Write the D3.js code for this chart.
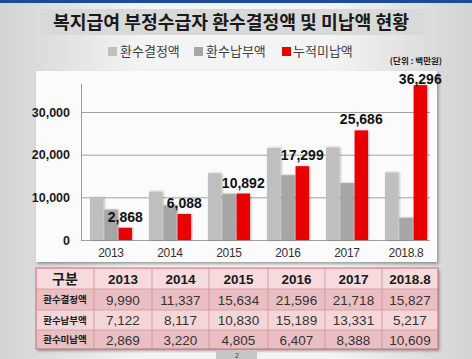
<!DOCTYPE html>
<html><head><meta charset="utf-8">
<script src="https://cdn.jsdelivr.net/npm/d3@7"></script>
<style>html,body{margin:0;padding:0;overflow:hidden;}svg{display:block;}</style>
</head><body>
<script>
const years = ["2013","2014","2015","2016","2017","2018.8"];
const seriesNames = ["환수결정액","환수납부액","누적미납액"];
const decided = [9990,11337,15634,21596,21718,15827];
const paid = [7122,8117,10830,15189,13331,5217];
const cumulative = [2868,6088,10892,17299,25686,36296];
const unpaid = [2869,3220,4805,6407,8388,10609];
const yTicks = [0,10000,20000,30000];
const tableRowNames = ["환수결정액","환수납부액","환수미납액"];
const tableRows = [decided, paid, unpaid];
const colors = ["#bfbfbf","#a6a6a6","#ea0000"];
const W=472,H=359;
const KR = "'Noto Sans CJK KR','Noto Sans',sans-serif";
const NUM = "'Liberation Sans',Arial,sans-serif";
const fmt = d3.format(",");

const svg = d3.select("body").append("svg").attr("width",W).attr("height",H);
const defs = svg.append("defs");
const bg = defs.append("linearGradient").attr("id","bg").attr("x1","0").attr("x2","1").attr("y1","0").attr("y2","0");
bg.append("stop").attr("offset","0").attr("stop-color","#d3d3d3");
bg.append("stop").attr("offset","0.3").attr("stop-color","#f4f4f4");
bg.append("stop").attr("offset","0.7").attr("stop-color","#f4f4f4");
bg.append("stop").attr("offset","1").attr("stop-color","#d3d3d3");
const sh = defs.append("filter").attr("id","sh").attr("x","-5%").attr("y","-5%").attr("width","112%").attr("height","115%");
sh.append("feDropShadow").attr("dx",1.5).attr("dy",2).attr("stdDeviation",1.5).attr("flood-color","#000").attr("flood-opacity",0.35);
const bsh = defs.append("filter").attr("id","bsh").attr("x","-20%").attr("y","-5%").attr("width","150%").attr("height","110%");
bsh.append("feDropShadow").attr("dx",1).attr("dy",0).attr("stdDeviation",0.8).attr("flood-color","#000").attr("flood-opacity",0.3);

svg.append("rect").attr("width",W).attr("height",H).attr("fill","url(#bg)");
svg.append("rect").attr("width",W).attr("height",3).attr("fill","#1f4b92");

// title
svg.append("rect").attr("x",40).attr("y",9).attr("width",384).attr("height",26).attr("fill","#d9d9d9");
svg.append("text").attr("x",231).attr("y",29).attr("text-anchor","middle")
  .attr("font-family",KR).attr("font-weight","bold").attr("font-size",18).attr("fill","#1a1a1a")
  .attr("textLength",356).attr("lengthAdjust","spacingAndGlyphs")
  .text("복지급여 부정수급자 환수결정액 및 미납액 현황");

// legend
const legX=[108,194,282];
seriesNames.forEach((n,i)=>{
  svg.append("rect").attr("x",legX[i]).attr("y",47).attr("width",9).attr("height",9).attr("fill",colors[i]);
  svg.append("text").attr("x",legX[i]+(i==2?11:12)).attr("y",56).attr("font-family",KR).attr("font-size",13)
    .attr("fill","#404040").text(n);
});
svg.append("text").attr("x",442).attr("y",64).attr("text-anchor","end").attr("font-family",KR)
  .attr("font-weight","bold").attr("font-size",8.5).attr("fill","#222").text("(단위 : 백만원)");

// chart panel
svg.append("rect").attr("x",36).attr("y",71).attr("width",401).attr("height",191).attr("fill","#fbfbfb").attr("filter","url(#sh)");

const y = d3.scaleLinear().domain([0,36800]).range([240,83]);
const x = d3.scaleBand().domain(years).range([81.5,435.5]).padding(0);
const x1 = d3.scaleBand().domain(seriesNames).range([0,42]).paddingInner(0.06);
const off = (x.bandwidth()-42)/2;

const yAxis = svg.append("g").attr("transform","translate(81,0)")
  .call(d3.axisLeft(y).tickValues(yTicks).tickFormat(d3.format(",")).tickSizeInner(-349).tickSizeOuter(0).tickPadding(11));
yAxis.select(".domain").attr("stroke","#9a9a9a");
yAxis.selectAll(".tick line").attr("stroke","#a0a0a0");
yAxis.selectAll(".tick text").attr("font-family",NUM).attr("font-weight","bold").attr("font-size",12.5).attr("fill","#1a1a1a");

const xAxis = svg.append("g").attr("transform","translate(0,240)")
  .call(d3.axisBottom(x).tickSize(0).tickPadding(8));
xAxis.select(".domain").remove();
xAxis.selectAll(".tick text").attr("font-family",NUM).attr("font-size",12).attr("fill","#333").attr("letter-spacing","-0.3");

const seriesData = [decided, paid, cumulative];
const g = svg.append("g");
seriesData.forEach((arr,si)=>{
  g.selectAll(null).data(arr).enter().append("rect")
    .attr("x",(d,i)=>x(years[i])+off+x1(seriesNames[si]))
    .attr("width",x1.bandwidth())
    .attr("y",d=>y(d)).attr("height",d=>240-y(d))
    .attr("fill",colors[si]).attr("filter","url(#bsh)");
});
g.selectAll(null).data(cumulative).enter().append("text")
  .attr("x",(d,i)=>x(years[i])+off+x1(seriesNames[2])+x1.bandwidth()/2)
  .attr("y",d=>Math.max(y(d)-6,84))
  .attr("text-anchor","middle").attr("font-family",NUM).attr("font-weight","bold").attr("font-size",14)
  .attr("fill","#111").text(d=>fmt(d));

// table
const colX=[36,94,152,209,268,325,382,438];
const rowY=[268,289,310,330,349];
const tg = svg.append("g");
tg.append("rect").attr("x",36).attr("y",268).attr("width",402).attr("height",81).attr("fill","#f3d3d6").attr("filter","url(#sh)");
const rowFill=["#f6dadd","#eabfc3","#f4d6d9","#eabfc3"];
for(let r=0;r<4;r++){
  tg.append("rect").attr("x",36).attr("y",rowY[r]).attr("width",402).attr("height",rowY[r+1]-rowY[r]).attr("fill",rowFill[r]);
}
for(let c=1;c<7;c++) tg.append("line").attr("x1",colX[c]).attr("x2",colX[c]).attr("y1",268).attr("y2",349).attr("stroke","#cf8f95").attr("stroke-width",0.8);
for(let r=1;r<4;r++) tg.append("line").attr("x1",36).attr("x2",438).attr("y1",rowY[r]).attr("y2",rowY[r]).attr("stroke","#d49aa0").attr("stroke-width",0.8);
tg.append("rect").attr("x",36).attr("y",268).attr("width",402).attr("height",81).attr("fill","none").attr("stroke","#c66f77").attr("stroke-width",1);
const cx = c=>(colX[c]+colX[c+1])/2;
const cy = r=>(rowY[r]+rowY[r+1])/2;
tg.append("text").attr("x",cx(0)).attr("y",cy(0)+5).attr("text-anchor","middle").attr("font-family",KR)
  .attr("font-weight","bold").attr("font-size",14).attr("fill","#1a1a1a").text("구분");
years.forEach((yr,i)=>{
  tg.append("text").attr("x",cx(i+1)).attr("y",cy(0)+5).attr("text-anchor","middle").attr("font-family",NUM)
    .attr("font-weight","bold").attr("font-size",13.5).attr("fill","#1a1a1a").text(yr);
});
tableRows.forEach((arr,r)=>{
  tg.append("text").attr("x",cx(0)).attr("y",cy(r+1)+3.5).attr("text-anchor","middle").attr("font-family",KR)
    .attr("font-weight","bold").attr("font-size",9.5).attr("fill","#1a1a1a").text(tableRowNames[r]);
  arr.forEach((v,i)=>{
    tg.append("text").attr("x",cx(i+1)).attr("y",cy(r+1)+5).attr("text-anchor","middle").attr("font-family",NUM)
      .attr("font-size",13.5).attr("fill","#333").text(fmt(v));
  });
});

// page number
svg.append("rect").attr("x",216).attr("y",350).attr("width",41).attr("height",9).attr("fill","#c6c6c6");
svg.append("text").attr("x",237).attr("y",357.5).attr("text-anchor","middle").attr("font-family",NUM).attr("font-size",7).attr("fill","#444").text("2");
</script>
</body></html>
